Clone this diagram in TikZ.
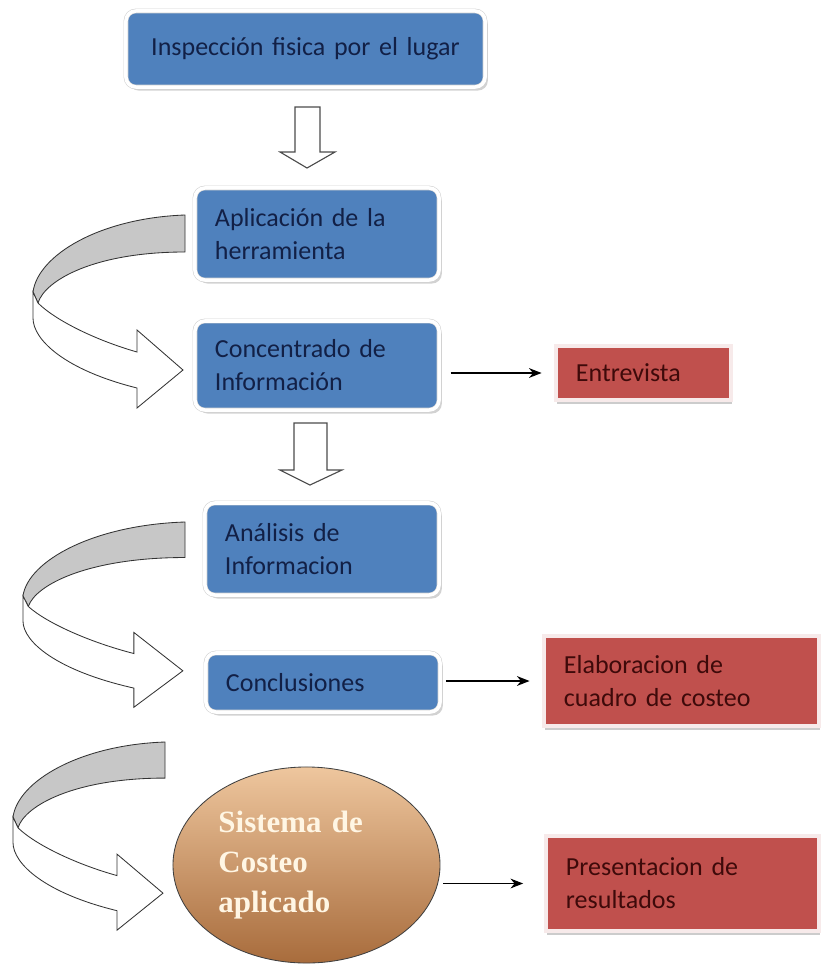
\documentclass[tikz,border=0pt]{standalone}
\usepackage{fontspec}
\setmainfont{Carlito}
\newfontfamily\costeofont{Liberation Serif}
\usetikzlibrary{shapes.geometric,shadows,arrows.meta}

\definecolor{boxblue}{RGB}{79,129,189}
\definecolor{boxred}{RGB}{192,80,77}
\definecolor{bluetext}{RGB}{18,32,70}
\definecolor{redtext}{RGB}{62,10,10}
\definecolor{costeotop}{RGB}{238,198,158}
\definecolor{costeomid}{RGB}{214,152,98}
\definecolor{costeobot}{RGB}{168,108,60}
\definecolor{cream}{RGB}{255,246,228}

\tikzset{
  bluebox/.style={rectangle, rounded corners=7pt, fill=boxblue, draw=black!18,
    double=white, double distance=2.5pt,
    drop shadow={shadow xshift=2pt, shadow yshift=-2.5pt, fill=black!35},
    text=bluetext, font=\fontsize{18.5}{23.5}\selectfont,
    align=left, inner xsep=0.5cm, inner ysep=0pt},
  redbox/.style={rectangle, fill=boxred, draw=boxred!12, line width=2.5pt,
    drop shadow={shadow xshift=1pt, shadow yshift=-3pt, fill=black!40},
    text=redtext, font=\fontsize{18.5}{23.5}\selectfont,
    align=left, inner xsep=0.5cm, inner ysep=0pt},
  costeo/.style={ellipse, draw=black!75, line width=0.6pt, inner sep=0pt,
    top color=costeotop, middle color=costeomid, bottom color=costeobot,
    text=cream, font=\costeofont\bfseries\fontsize{22}{28.5}\selectfont,
    align=left},
  flecha/.style={-{Stealth[length=9pt,width=7pt]}, line width=0.8pt},
  blockarrow/.style={draw=black!70, line width=0.8pt, fill=white, line join=miter},
  ribbonline/.style={draw=black!80, line width=0.6pt},
  turnarrow/.pic={
    \draw[ribbonline, fill=black!22] (0,0) .. controls (-85,3) and (-147,40) .. (-152,77)
      -- (-147,88) .. controls (-140,65) and (-90,37) .. (0,37) -- cycle;
    \draw[ribbonline, fill=white] (-152,77) -- (-152,103)
      .. controls (-152,125) and (-120,155) .. (-48,173) -- (-48,193) -- (-2,155)
      -- (-48,115) -- (-48,137) .. controls (-90,125) and (-130,105) .. (-147,88) -- cycle;
  }
}

\begin{document}
\begin{tikzpicture}[x=0.025cm, y=-0.025cm]
\useasboundingbox (0,0) rectangle (821,974);

% main column
\node[bluebox, align=center, minimum width=8.975cm, minimum height=1.9cm, text width=7.975cm]
  (inspeccion) at (305.5,49) {Inspección fisica por el lugar};
\node[bluebox, minimum width=6.1cm, minimum height=2.3cm, text width=5.1cm]
  (aplicacion) at (317,234) {Aplicación de la\\herramienta};
\node[bluebox, minimum width=6.1cm, minimum height=2.225cm, text width=5.1cm]
  (concentrado) at (317,365.5) {Concentrado de\\Información};
\node[bluebox, minimum width=5.85cm, minimum height=2.3cm, text width=4.85cm]
  (analisis) at (322,549) {Análisis de\\Informacion};
\node[bluebox, minimum width=5.85cm, minimum height=1.475cm, text width=4.85cm]
  (conclusiones) at (323,682.5) {Conclusiones};
\node[costeo, minimum width=6.675cm, minimum height=4.9cm, text width=4.4cm]
  (sistema) at (306.5,865) {Sistema de\\Costeo\\aplicado};

% side boxes
\node[redbox, minimum width=4.375cm, minimum height=1.35cm, text width=3.375cm]
  (entrevista) at (643.5,373) {Entrevista};
\node[redbox, minimum width=6.875cm, minimum height=2.25cm, text width=5.875cm]
  (cuadro) at (681.5,681) {Elaboracion de\\cuadro de costeo};
\node[redbox, minimum width=6.825cm, minimum height=2.375cm, text width=5.825cm]
  (resultados) at (682.5,883.5) {Presentacion de\\resultados};

% block arrows down
\draw[blockarrow] (295,107) -- ++(25,0) -- ++(0,45) -- ++(15,0) -- (307,168)
  -- (280,152) -- ++(15,0) -- cycle;
\draw[blockarrow] (294,423) -- ++(33,0) -- ++(0,47) -- ++(15,0) -- (310,485)
  -- (280,470) -- ++(14,0) -- cycle;

% turning arrows
\pic at (185,215) {turnarrow};
\pic[xscale=1.066, yscale=0.96] at (185,522) {turnarrow};
\pic[yscale=0.975] at (165,742) {turnarrow};

% connectors
\draw[flecha, shorten <=8pt, shorten >=9pt] (concentrado.east |- entrevista.west) -- (entrevista.west);
\draw[flecha, shorten <=4pt, shorten >=9pt] (conclusiones.east |- cuadro.west) -- (cuadro.west);
\draw[flecha, shorten <=2pt, shorten >=15pt] (sistema.east |- resultados.west) -- (resultados.west);
\end{tikzpicture}
\end{document}
